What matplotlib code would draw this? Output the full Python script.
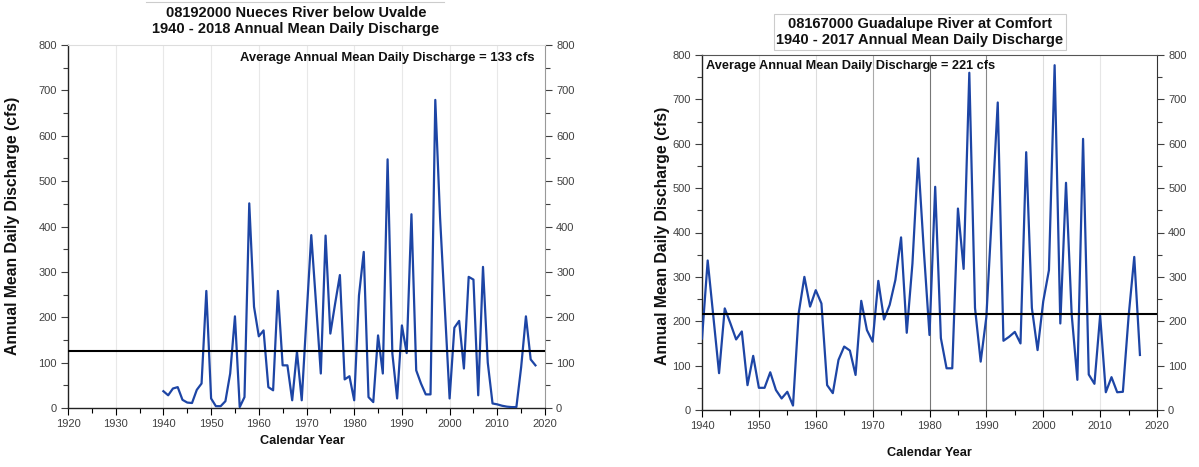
import matplotlib
matplotlib.use('Agg')
import matplotlib.pyplot as plt
from matplotlib.ticker import MultipleLocator
from matplotlib.lines import Line2D

plt.rcParams['font.family'] = ['Liberation Sans', 'DejaVu Sans']

# ---------------- data ----------------
nueces_years = list(range(1940, 2019))
nueces_flow = [37, 28, 43, 46, 18, 12, 11, 40, 54, 258,
               21, 4, 4, 15, 76, 202, 2, 24, 451, 223,
               158, 171, 46, 39, 258, 94, 94, 17, 124, 17,
               200, 381, 230, 76, 380, 164, 230, 293, 63, 70,
               17, 248, 344, 24, 13, 160, 76, 548, 120, 21,
               182, 121, 427, 83, 54, 30, 30, 679, 420, 220,
               21, 177, 192, 87, 289, 283, 28, 311, 100, 10,
               8, 5, 3, 2, 2, 90, 202, 107, 94]
nueces_avg_line = 125
nueces_title = "08192000 Nueces River below Uvalde\n1940 - 2018 Annual Mean Daily Discharge"
nueces_note = "Average Annual Mean Daily Discharge = 133 cfs"

guad_years = list(range(1940, 2018))
guad_flow = [161, 337, 210, 83, 229, 195, 159, 177, 56, 122,
             50, 50, 85, 45, 26, 41, 10, 218, 300, 233,
             270, 240, 56, 38, 113, 143, 134, 79, 246, 180,
             154, 291, 204, 237, 293, 389, 174, 330, 567, 360,
             169, 503, 162, 94, 94, 454, 318, 760, 230, 109,
             210, 450, 693, 156, 165, 176, 150, 581, 230, 135,
             245, 315, 777, 195, 512, 215, 68, 611, 80, 59,
             213, 40, 74, 40, 41, 210, 345, 124]
guad_avg_line = 216
guad_title = "08167000 Guadalupe River at Comfort\n1940 - 2017 Annual Mean Daily Discharge"
guad_note = "Average Annual Mean Daily Discharge = 221 cfs"

ylabel = "Annual Mean Daily Discharge (cfs)"
xlabel = "Calendar Year"

# ---------------- figure ----------------
W, H = 1199, 467
fig = plt.figure(figsize=(W / 100, H / 100), dpi=100)

LINE_C = '#1d45a5'
TICK_C = '#404040'
TXT_C = '#111111'


def px_axes(l, t, r, b):
    return fig.add_axes([l / W, (H - b) / H, (r - l) / W, (b - t) / H])


def style(ax, xmin, xmax, right_c, top_c):
    ax.set_xlim(xmin, xmax)
    ax.set_ylim(0, 800)
    ax.xaxis.set_major_locator(MultipleLocator(10))
    ax.xaxis.set_minor_locator(MultipleLocator(5))
    ax.yaxis.set_major_locator(MultipleLocator(100))
    ax.yaxis.set_minor_locator(MultipleLocator(50))
    ax.tick_params(which='both', direction='out', labelsize=8, labelcolor=TICK_C,
                   right=True, labelright=True, top=False)
    ax.tick_params(which='major', length=5, width=0.8, pad=3)
    ax.tick_params(which='minor', length=3.5, width=0.8)
    ax.tick_params(axis='y', which='both', right=True, colors=TICK_C)
    for s in ('left', 'bottom'):
        ax.spines[s].set_color('#222222')
        ax.spines[s].set_linewidth(1.0)
    ax.spines['right'].set_color(right_c)
    ax.spines['top'].set_color(top_c)
    for t in ax.yaxis.get_ticklines(minor=False)[1::2]:
        t.set_color(right_c)
    for t in ax.yaxis.get_ticklines(minor=True)[1::2]:
        t.set_color(right_c)


# ---- left chart ----
ax1 = px_axes(68, 45, 545, 408)
style(ax1, 1920, 2020, '#999999', '#dddddd')
for yr in range(1930, 2020, 10):
    ax1.axvline(yr, color='#e8e8e8', lw=0.8, zorder=0)
ax1.plot(nueces_years, nueces_flow, color=LINE_C, lw=1.6, zorder=3)
ax1.axhline(nueces_avg_line, color='black', lw=1.5, zorder=4)
ax1.text(0.979, 0.963, nueces_note, transform=ax1.transAxes, ha='right', va='center',
         fontsize=9.4, fontweight='bold', color=TXT_C)

fig.text(296 / W, 1 - 21 / H, nueces_title, ha='center', va='center', fontsize=10.5,
         fontweight='bold', linespacing=1.15, color=TXT_C)
fig.add_artist(Line2D([146 / W, 444 / W], [1 - 1.5 / H, 1 - 1.5 / H], color='#cccccc', lw=0.8))
fig.text(13 / W, 1 - 226 / H, ylabel, rotation=90, ha='center', va='center',
         fontsize=11.3, fontweight='bold', color=TXT_C)
fig.text(302 / W, 1 - 441 / H, xlabel, ha='center', va='center',
         fontsize=9.2, fontweight='bold', color=TXT_C)

# ---- right chart ----
ax2 = px_axes(702, 55, 1157, 410)
style(ax2, 1940, 2020, '#333333', '#555555')
grid_cols = {1950: '#e6e6e6', 1960: '#dddddd', 1970: '#aaaaaa', 1980: '#777777',
             1990: '#888888', 2000: '#dddddd', 2010: '#e6e6e6'}
for yr, c in grid_cols.items():
    ax2.axvline(yr, color=c, lw=0.8, zorder=0)
ax2.plot(guad_years, guad_flow, color=LINE_C, lw=1.6, zorder=3)
ax2.axhline(guad_avg_line, color='black', lw=1.5, zorder=4)
ax2.text(0.009, 0.969, guad_note, transform=ax2.transAxes, ha='left', va='center',
         fontsize=9.2, fontweight='bold', color=TXT_C)

fig.text(920 / W, 1 - 32 / H, guad_title, ha='center', va='center', fontsize=10.5,
         fontweight='bold', linespacing=1.15, color=TXT_C,
         bbox=dict(boxstyle='square,pad=0.2', fc='white', ec='#cccccc', lw=0.8))
fig.text(662 / W, 1 - 236 / H, ylabel, rotation=90, ha='center', va='center',
         fontsize=11.3, fontweight='bold', color=TXT_C)
fig.text(929 / W, 1 - 453 / H, xlabel, ha='center', va='center',
         fontsize=9.2, fontweight='bold', color=TXT_C)

fig.savefig('out.png', dpi=100)
